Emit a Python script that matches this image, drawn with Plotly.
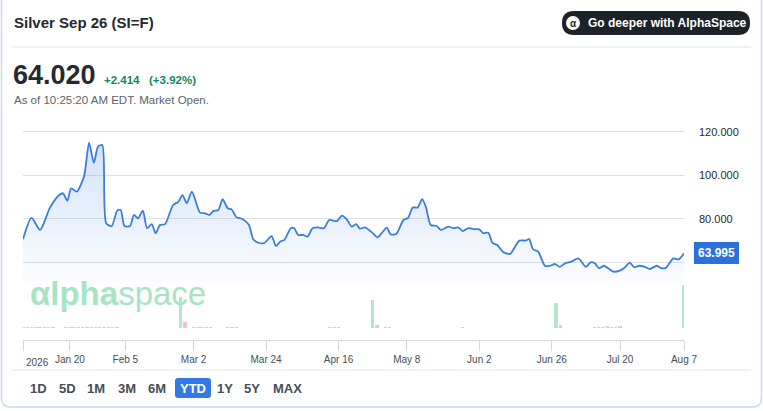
import plotly.graph_objects as go

W, H = 763, 411

# price, x = trading session number since Jan 2
session = [0, 2, 4, 6.3, 8.5, 9.4, 10.4, 11.3, 12.6, 14.3, 15.5, 16.6, 17.6, 18.6, 19.5,
           20.8, 22.1, 22.9, 23.8, 25.1, 26.0, 27.0, 28.1, 29.1, 30.2, 31.1, 32.1, 33.3,
           35.2, 36.4, 37.4, 38.4, 39.6, 41.5, 42.7, 43.7, 44.6, 45.8, 46.8, 48.0, 48.9,
           50.1, 51.0, 52.0, 53.0, 54.0, 55.2, 56.6, 58.3, 59.3, 60.3, 61.3, 62.8, 63.6,
           64.5, 65.7, 66.7, 67.9, 69.2, 70.6, 71.8, 73.6, 74.8, 75.9, 77.1, 78.1, 79.0,
           80.2, 81.8, 83.1, 84.1, 85.3, 86.2, 87.5, 89.2, 90.3, 91.4, 92.5, 93.6, 94.5,
           95.6, 97.0, 98.0, 99.7, 100.9, 102.1, 103.1, 104.4, 105.6, 107.0, 107.9, 109.1,
           110.1, 111.2, 112.5, 114.2, 115.4, 116.4, 117.9, 118.7, 119.6, 120.8, 122.4,
           123.6, 124.7, 125.9, 127.1, 128.6, 130.2, 132.0, 133.1, 134.1, 135.1, 136.2,
           137.2, 138.4, 139.8, 140.9, 142.3, 143.3, 144.5, 145.8, 147.0, 148.6, 149.8,
           150.8, 152.5, 153.7, 155.0]
price = [70.5, 80.4, 74.8, 85.0, 90.9, 91.7, 88.3, 94.0, 92.5, 99.4, 115.1, 105.8, 113.2, 114.0, 77.9,
         76.6, 83.7, 84.0, 76.6, 76.6, 81.7, 80.2, 83.7, 75.6, 77.5, 73.3, 77.1, 77.5,
         86.3, 87.8, 90.9, 87.1, 92.5, 82.8, 82.5, 81.7, 83.5, 84.0, 89.0, 84.8, 84.3,
         80.6, 80.2, 79.1, 77.1, 70.5, 68.9, 68.8, 72.0, 67.4, 69.4, 70.2, 75.6, 75.6,
         72.5, 72.5, 71.7, 75.6, 76.0, 75.6, 79.4, 78.9, 81.4, 79.7, 76.3, 77.5, 75.4,
         76.0, 73.7, 71.4, 73.3, 75.9, 72.8, 72.9, 79.4, 80.4, 85.2, 85.1, 89.0, 85.2,
         77.1, 76.6, 74.8, 76.3, 75.6, 76.0, 74.3, 75.6, 75.2, 75.1, 73.3, 73.5,
         68.8, 67.9, 64.8, 63.7, 67.1, 69.9, 69.9, 70.6, 65.9, 64.8, 58.2,
         58.3, 59.1, 57.8, 59.4, 60.2, 61.7, 57.8, 59.9, 59.4, 57.1, 58.3,
         57.1, 55.6, 55.9, 57.1, 59.7, 57.6, 58.3, 57.8, 56.8, 58.3, 57.1,
         57.4, 61.7, 61.2, 63.995]
last_price = "63.995"

# volume (relative), direction u = up day, d = down day
vol_session = [0, 1, 2, 3, 4, 5, 6, 7, 10, 11, 12, 13, 14, 15, 16, 17, 18, 19, 20, 21, 22,
               37, 38, 40, 41, 42, 43, 44, 48, 49, 50, 72, 73, 74, 82, 83, 85, 86, 103,
               125, 126, 134, 135, 136, 137, 138, 139, 140, 155]
vol_value = [2, 3, 2, 2, 3, 2, 2, 2, 2, 3, 2, 2, 3, 2, 2, 3, 2, 2, 3, 2, 2,
             72, 14, 3, 2, 3, 2, 2, 2, 3, 2, 2, 3, 2, 65, 7, 2, 3, 2,
             58, 7, 2, 3, 2, 4, 3, 2, 5, 100]
vol_dir = ['d', 'd', 'u', 'd', 'd', 'd', 'u', 'd', 'd', 'd', 'u', 'd', 'd', 'd', 'd', 'u', 'd', 'd', 'd', 'u', 'd',
           'u', 'd', 'd', 'd', 'u', 'd', 'd', 'd', 'd', 'u', 'd', 'd', 'd', 'u', 'd', 'd', 'd', 'd',
           'u', 'd', 'd', 'd', 'u', 'd', 'd', 'd', 'u', 'u']

tick_session = [0, 11, 24, 40, 57, 74, 90, 107, 124, 140, 155]
tick_text = ["2026", "Jan 20", "Feb 5", "Mar 2", "Mar 24", "Apr 16", "May 8", "Jun 2", "Jun 26", "Jul 20", "Aug 7"]
ytick_vals = [60, 80, 100, 120]
ytick_text = ["", "80.000", "100.000", "120.000"]
ranges = ["1D", "5D", "1M", "3M", "6M", "YTD", "1Y", "5Y", "MAX"]
range_x = [38, 67, 96, 127, 157, 193, 225, 252, 287]

FONT = "Liberation Sans, Arial, sans-serif"
DARK = "#232a31"
GREY = "#464e56"


def px(x):
    return x / W


def py(y):
    return 1 - y / H


def rrect(x0, y0, x1, y1, r):
    pts = [("M", x0 + r, y0), ("L", x1 - r, y0), ("Q", x1, y0, x1, y0 + r),
           ("L", x1, y1 - r), ("Q", x1, y1, x1 - r, y1), ("L", x0 + r, y1),
           ("Q", x0, y1, x0, y1 - r), ("L", x0, y0 + r), ("Q", x0, y0, x0 + r, y0)]
    out = ""
    for p in pts:
        cmd, coords = p[0], p[1:]
        xy = []
        for i in range(0, len(coords), 2):
            xy.append(f"{px(coords[i]):.5f},{py(coords[i + 1]):.5f}")
        out += cmd + " " + " ".join(xy) + " "
    return out + "Z"


fig = go.Figure()

fig.add_trace(go.Scatter(
    x=session, y=price, mode="lines", line=dict(color="#3b7ddd", width=1.8, shape="spline", smoothing=0.7),
    fill="tozeroy",
    fillgradient=dict(type="vertical", start=50, stop=118,
                      colorscale=[[0, "rgba(80,140,230,0.02)"], [1, "rgba(80,140,230,0.26)"]]),
    xaxis="x", yaxis="y", hoverinfo="skip"))

fig.add_trace(go.Bar(
    x=vol_session, y=vol_value, width=0.8,
    marker=dict(color=["rgba(120,210,160,0.55)" if d == "u" else "rgba(240,140,150,0.55)" for d in vol_dir],
                line=dict(width=0)),
    xaxis="x", yaxis="y2", hoverinfo="skip"))

annotations = [
    dict(text="Silver Sep 26 (SI=F)", x=px(12), y=py(22), font=dict(size=15, color=DARK, weight=600)),
    dict(text="<b>64.020</b>", x=px(11), y=py(75), font=dict(size=27, color=DARK)),
    dict(text="<b>+2.414</b>", x=px(102), y=py(80), font=dict(size=11.5, color="#0f8a5a")),
    dict(text="<b>(+3.92%)</b>", x=px(147), y=py(80), font=dict(size=11.5, color="#0f8a5a")),
    dict(text="As of 10:25:20 AM EDT. Market Open.", x=px(12), y=py(100), font=dict(size=11.5, color="#5b636a")),
    dict(text="<b>Go deeper with AlphaSpace</b>", x=px(586), y=py(23), font=dict(size=12, color="white")),
    dict(text="<b>α</b>", x=px(573), y=py(23), xanchor="center", font=dict(size=10, color="#1d2228")),
    dict(text="<b>αlpha</b>space", x=px(28), y=py(293), font=dict(size=33, color="#a6e4c4")),
]
for a in annotations:
    a.setdefault("xanchor", "left")
    a.update(xref="paper", yref="paper", yanchor="middle", showarrow=False, font=dict(family=FONT, **a["font"]))

for label, cx in zip(ranges, range_x):
    annotations.append(dict(text=f"<b>{label}</b>", x=px(cx), y=py(388), xref="paper", yref="paper",
                            xanchor="center", yanchor="middle", showarrow=False,
                            font=dict(family=FONT, size=13, color="white" if label == "YTD" else GREY)))

# first date label sits to the right of its tick
annotations.append(dict(text=tick_text[0], x=tick_session[0], xref="x", y=py(362), yref="paper",
                        xanchor="left", yanchor="middle", xshift=1, showarrow=False,
                        font=dict(family=FONT, size=10, color=GREY)))
# current price tag
annotations.append(dict(text=f"<b>{last_price}</b>", x=session[-1], y=price[-1], xref="x", yref="y",
                        xanchor="left", yanchor="middle", xshift=10, showarrow=False,
                        bgcolor="#2d6fdb", bordercolor="#2d6fdb", borderwidth=1, borderpad=3,
                        font=dict(family=FONT, size=12, color="white")))

shapes = [
    dict(type="path", path=rrect(1.5, -10, 761.5, 407, 9), line=dict(color="#cbd9ef", width=1.5)),
    dict(type="line", x0=px(12), x1=px(751), y0=py(47), y1=py(47), line=dict(color="#e2e5e9", width=1)),
    dict(type="line", x0=px(12), x1=px(751), y0=py(370), y1=py(370), line=dict(color="#e2e5e9", width=1)),
    dict(type="path", path=rrect(562, 11, 750, 35, 12), fillcolor="#1d2228", line=dict(width=0)),
    dict(type="circle", x0=px(566), x1=px(580), y0=py(30), y1=py(16), fillcolor="white", line=dict(width=0)),
    dict(type="path", path=rrect(175, 378, 211, 398, 3), fillcolor="#3478e5", line=dict(width=0), layer="below"),
]
for s in shapes:
    s.update(xref="paper", yref="paper")

fig.update_layout(
    width=W, height=H, autosize=False,
    margin=dict(l=0, r=0, t=0, b=0, pad=0),
    paper_bgcolor="white", plot_bgcolor="white",
    showlegend=False, bargap=0,
    font=dict(family=FONT),
    xaxis=dict(domain=[px(23), px(684)], range=[0, 155], anchor="free", position=py(340),
               showline=True, linecolor="#d4d8dd", linewidth=1, ticks="outside", ticklen=10,
               tickcolor="#d4d8dd", tickvals=tick_session, ticktext=[""] + tick_text[1:],
               tickfont=dict(size=10, color=GREY), showgrid=False, zeroline=False, automargin=False),
    yaxis=dict(domain=[py(282), py(125)], range=[50.8, 123.2], anchor="x", side="right",
               tickvals=ytick_vals, ticktext=ytick_text, ticks="", ticklabelstandoff=14,
               tickfont=dict(size=11, color=DARK), showgrid=True, gridcolor="#dde1e6",
               gridwidth=1, zeroline=False, showline=False, automargin=False),
    yaxis2=dict(domain=[py(328), py(285)], range=[0, 100], anchor="x", visible=False, automargin=False),
    annotations=annotations,
    shapes=shapes,
)

# page has a default 8px body margin and may grow scrollbars; drop both
page_fix = ("document.documentElement.style.overflow='hidden';"
            "document.body.style.margin='0';document.body.style.overflow='hidden';")
fig.write_html("out.html", config={"displayModeBar": False, "responsive": False}, post_script=page_fix)
